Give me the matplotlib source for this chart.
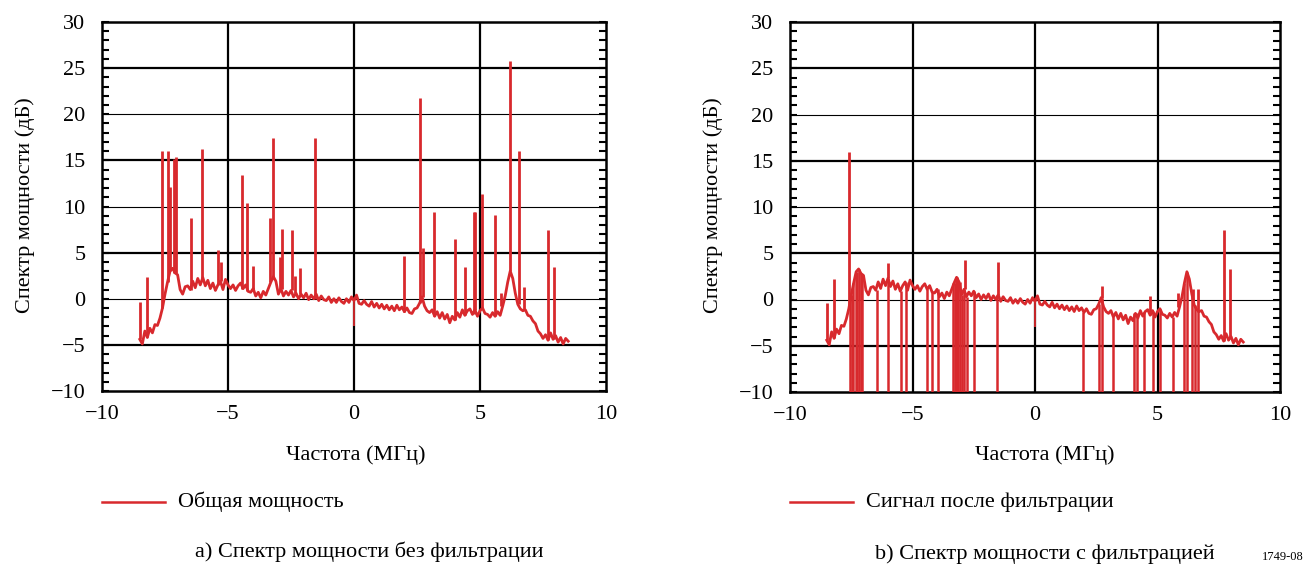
import numpy as np
import matplotlib
matplotlib.use("Agg")
import matplotlib.pyplot as plt
from matplotlib.lines import Line2D
from matplotlib.ticker import MultipleLocator

plt.rcParams['font.family'] = ['Liberation Serif', 'DejaVu Serif']

# baseline of the spectrum, 0.1 MHz steps from -8.5 to 8.5 MHz (dB)
freq = np.round(np.arange(-8.5, 8.501, 0.1), 1)
base_level = [
    -4.4, -4.9, -3.5, -4.2, -3.2, -3.7, -2.8, -2.9, -2.1, -1.0,
    0.5, 1.8, 3.0, 3.3, 2.8, 2.6, 1.0, 0.5, 1.3, 1.4,
    1.0, 1.9, 1.2, 2.2, 1.5, 2.3, 1.4, 2.0, 1.1, 1.7,
    0.9, 1.5, 1.9, 1.0, 2.1, 1.5, 1.1, 1.5, 0.9, 1.4,
    1.7, 1.1, 1.5, 0.8, 0.7, 1.1, 0.3, 0.7, 0.1, 0.8,
    0.4, 1.1, 1.8, 2.4, 1.9, 0.5, 1.1, 0.3, 0.8, 0.4,
    0.9, 0.2, 0.6, 0.0, 0.5, 0.1, 0.6, -0.1, 0.4, 0.0,
    0.5, -0.2, 0.3, -0.1, -0.2, 0.2, -0.4, 0.0, -0.4, 0.1,
    -0.3, -0.5, 0.0, -0.4, 0.2, -0.2, 0.4, -0.5, -0.6, -0.2,
    -0.6, -0.8, -0.3, -0.9, -0.5, -1.0, -0.6, -1.1, -0.7, -1.2,
    -0.8, -1.3, -0.7, -1.2, -0.9, -1.4, -1.0, -1.5, -1.6, -1.1,
    -1.0, -0.5, 0.2, -0.8, -1.3, -1.5, -1.2, -1.9, -1.4, -2.1,
    -1.5, -2.2, -1.7, -2.6, -1.9, -2.3, -1.5, -2.0, -1.2, -1.8,
    -1.3, -1.1, -1.7, -1.2, -1.9, -1.3, -1.0, -1.6, -1.7, -2.0,
    -1.5, -1.9, -1.4, -1.8, -0.8, 0.3, 1.8, 3.0, 2.2, 0.6,
    -0.6, -1.1, -1.3, -1.2, -1.8, -1.9, -2.4, -2.7, -3.5, -3.8,
    -4.3, -3.9, -4.5, -3.7, -4.4, -4.0, -4.7, -4.2, -4.9, -4.3,
    -4.6,
]

# interference peaks in the unfiltered spectrum (MHz, dB)
spike_freq_a = [-8.5, -8.21, -7.6, -7.38, -7.31, -7.13, -7.06, -6.48, -6.03,
                -5.41, -5.28, -4.43, -4.23, -4.0, -3.32, -3.23, -2.95, -2.86,
                -2.47, -2.33, -2.13, -1.56, 1.97, 2.63, 2.75, 3.19, 4.02,
                4.40, 4.75, 4.79, 5.08, 5.61, 5.85, 6.19, 6.53, 6.76, 7.71, 7.95]
spike_top_a = [-0.3, 2.4, 16.0, 16.0, 12.1, 15.2, 15.4, 8.7, 16.2,
               5.3, 4.0, 13.4, 10.4, 3.5, 8.7, 17.4, 4.5, 7.6,
               7.4, 2.5, 3.3, 17.4, 4.6, 21.8, 5.5, 9.4, 6.5,
               3.4, 9.4, 9.4, 11.4, 9.1, 0.6, 25.8, 16.0, 1.3, 7.4, 3.4]
dip_freq = [0.0]
dip_low = [-3.0]

# filtered spectrum: remaining peaks and notched bins
spike_freq_b = [-8.5, -8.19, -7.6, -6.0, -2.86, -1.52, 2.72, 4.69, 5.85, 6.45, 6.65, 7.71, 7.96]
spike_top_b = [-0.4, 2.2, 15.9, 3.9, 4.3, 4.1, 1.5, 0.4, 0.7, 1.1, 1.1, 7.5, 3.3]
notch_freq_b = [-7.55, -7.48, -7.42, -7.32, -7.25, -7.18, -7.12, -7.05,
                -6.46, -5.99, -5.47, -5.27, -4.42, -4.22, -3.97,
                -3.33, -3.28, -3.24, -3.2, -3.13, -3.07, -3.0, -2.88, -2.79,
                -2.49, -1.54, 1.97, 2.63, 2.72, 3.2, 4.05, 4.15, 4.45, 4.8,
                5.1, 5.62, 6.08, 6.19, 6.39, 6.53, 6.64]

red = '#d8292d'


def base_at(f):
    return base_level[int(round((f + 8.5) * 10))]


def setup(ax):
    ax.set_xlim(-10, 10)
    ax.set_ylim(-10, 30)
    ax.set_xticks([-10, -5, 0, 5, 10])
    ax.set_yticks(range(-10, 31, 5))
    ax.set_yticklabels([str(v).replace('-', '\u2212') for v in range(-10, 31, 5)])
    ax.set_xticklabels(['\u221210', '\u22125', '0', '5', '10'])
    ax.yaxis.set_minor_locator(MultipleLocator(1))
    ax.tick_params(axis='y', which='both', direction='in', left=True, right=True,
                   length=5, width=1.5, labelsize=16, pad=12)
    ax.tick_params(axis='x', which='both', direction='in', length=0,
                   labelsize=16, pad=10)
    for v in [-5, 0, 5]:
        ax.axvline(v, color='black', lw=1.6, zorder=1)
    for v in [25, 15, 5, -5]:
        ax.axhline(v, color='black', lw=1.6, zorder=1)
    for v in [20, 10, 0]:
        ax.axhline(v, color='black', lw=0.8, zorder=1)
    for s in ax.spines.values():
        s.set_linewidth(1.8)


fig = plt.figure(figsize=(13.14, 5.64), dpi=100)
W, H = 1314, 564
ax1 = fig.add_axes([102 / W, 1 - 391 / H, 504 / W, 369 / H])
ax2 = fig.add_axes([790 / W, 1 - 392 / H, 490 / W, 370 / H])

for ax in (ax1, ax2):
    setup(ax)
    ax.plot(freq, base_level, color=red, lw=2.0, zorder=3)

ax1.vlines(spike_freq_a, [base_at(f) for f in spike_freq_a], spike_top_a,
           color=red, lw=2.0, zorder=3)
ax1.vlines(dip_freq, dip_low, [base_at(f) for f in dip_freq], color=red, lw=1.3, zorder=3)

ax2.vlines(spike_freq_b, [base_at(f) for f in spike_freq_b], spike_top_b,
           color=red, lw=2.0, zorder=3)
ax2.vlines(notch_freq_b, -11, [base_at(f) for f in notch_freq_b],
           color=red, lw=1.8, zorder=3)
ax2.vlines(dip_freq, dip_low, [base_at(f) for f in dip_freq], color=red, lw=1.3, zorder=3)

fs = 16
fig.text(25 / W, 1 - 205 / H, 'Спектр мощности (дБ)', rotation=90, ha='center', va='center', fontsize=fs)
fig.text(713 / W, 1 - 205 / H, 'Спектр мощности (дБ)', rotation=90, ha='center', va='center', fontsize=fs)
fig.text(356 / W, 1 - 455 / H, 'Частота (МГц)', ha='center', va='center', fontsize=fs)
fig.text(1045 / W, 1 - 455 / H, 'Частота (МГц)', ha='center', va='center', fontsize=fs)

fig.add_artist(Line2D([102 / W, 165 / W], [1 - 502 / H] * 2, color=red, lw=1.8))
fig.text(178 / W, 1 - 502 / H, 'Общая мощность', ha='left', va='center', fontsize=fs)
fig.add_artist(Line2D([790 / W, 853 / W], [1 - 502 / H] * 2, color=red, lw=1.8))
fig.text(866 / W, 1 - 502 / H, 'Сигнал после фильтрации', ha='left', va='center', fontsize=fs)

fig.text(369 / W, 1 - 552 / H, 'a) Спектр мощности без фильтрации', ha='center', va='center', fontsize=fs)
fig.text(1045 / W, 1 - 554 / H, 'b) Спектр мощности с фильтрацией', ha='center', va='center', fontsize=fs)
fig.text(1262 / W, 1 - 557 / H, '1749-08', ha='left', va='center', fontsize=9)

fig.savefig('out.png', dpi=100)
